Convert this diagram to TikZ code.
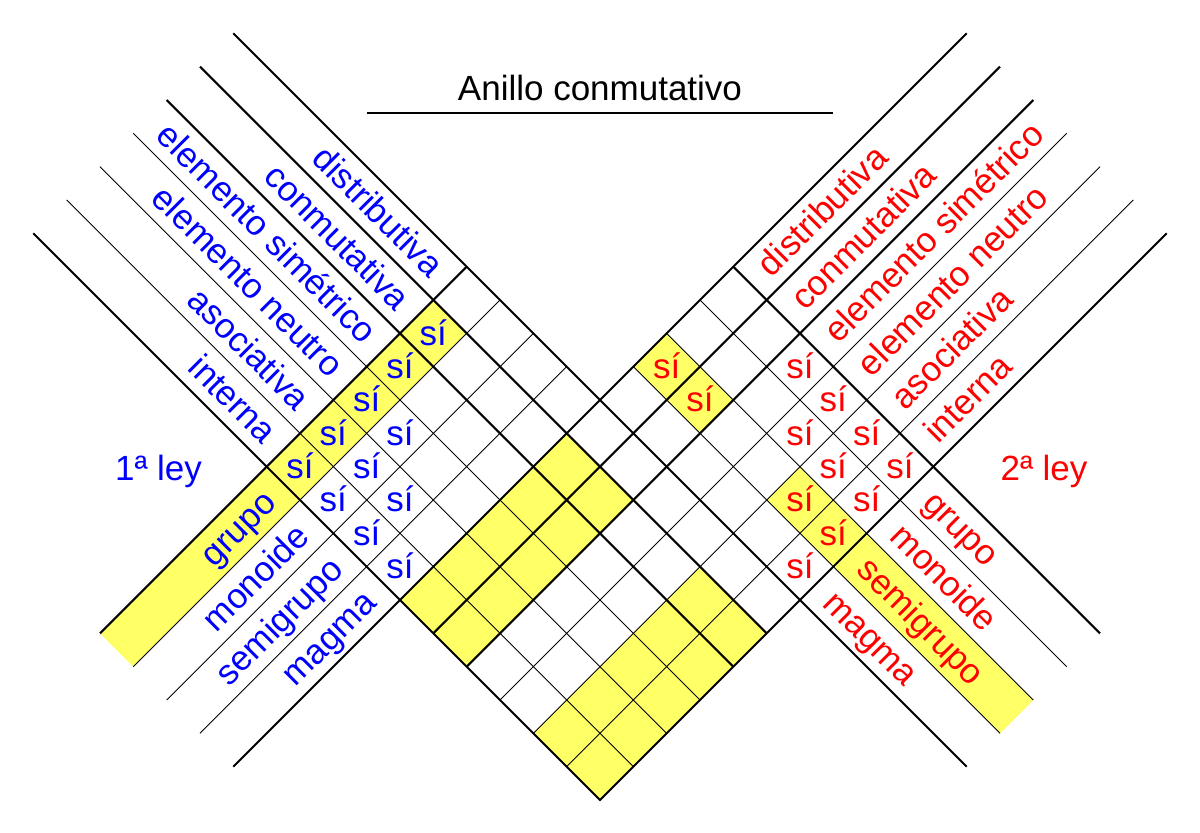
\documentclass[tikz,border=0pt]{standalone}
\usepackage{fontspec}
\setmainfont{Liberation Sans}
\definecolor{amarillo}{RGB}{255,255,102}
\definecolor{azul}{RGB}{0,0,255}
\definecolor{rojo}{RGB}{255,0,0}
\begin{document}
\begin{tikzpicture}[x=1pt,y=1pt,
  thickline/.style={line width=2.1pt},
  thinline/.style={line width=0.9pt},
  lbl/.style={font=\fontsize{35}{40}\selectfont, inner sep=0pt},
  si/.style={font=\fontsize{35}{40}\selectfont, inner sep=0pt, anchor=base, yshift=-11.7pt}]
\useasboundingbox (0,0) rectangle (1200,-833);
% title
\node[lbl, anchor=base] (titulo) at (600,-100) {Anillo conmutativo};
\coordinate (ul1) at (366.7,-112.7);
\coordinate (ul2) at (833.3,-112.7);
\draw[line width=1.6pt] (ul1) -- (ul2);
\node[lbl, anchor=base, text=azul] (ley1) at (158.5,-480) {1ª ley};
\node[lbl, anchor=base, text=rojo] (ley2) at (1044,-480) {2ª ley};
\begin{scope}[x={(33.3333pt,33.3333pt)}, y={(33.3333pt,-33.3333pt)}]
% yellow fills
\fill[amarillo] (-8,11) -- (2,11) -- (2,12) -- (-8,12) -- cycle;
\fill[amarillo] (-3,15) -- (2,15) -- (2,17) -- (-3,17) -- cycle;
\fill[amarillo] (-3,19) -- (2,19) -- (2,21) -- (-3,21) -- cycle;
\fill[amarillo] (4,15) -- (5,15) -- (5,17) -- (4,17) -- cycle;
\fill[amarillo] (4,19) -- (5,19) -- (5,26) -- (4,26) -- cycle;
% lines u = const
\draw[thickline] (3,4) -- (3,26);
\foreach \u/\s in {2/thickline,1/thickline,0/thinline,-1/thinline,-2/thinline}
  \draw[\s] (\u,4) -- (\u,21);
\draw[thickline] (-3,4) -- (-3,21) -- (14,21);
\foreach \u/\s in {4/thinline,5/thinline,6/thinline,7/thickline}
  \draw[\s] (\u,15) -- (\u,26);
% lines v = const
\draw[thickline] (-8,15) -- (14,15);
\foreach \v/\s in {16/thickline,17/thickline,18/thinline,19/thinline,20/thinline}
  \draw[\s] (-3,\v) -- (14,\v);
\foreach \v/\s in {11/thickline,12/thinline,13/thinline,14/thinline}
  \draw[\s] (-8,\v) -- (3,\v);
% upper-left labels (1st law properties)
\foreach \u/\t [count=\i] in {2.5/distributiva,1.5/conmutativa,0.5/elemento simétrico,-0.5/elemento neutro,-1.5/asociativa,-2.5/interna}
  \node[lbl, text=azul, rotate=-45, anchor=base east] (pa\i) at ({\u-0.25},10.62) {\t};
% lower-left labels (1st law structures)
\foreach \v/\t [count=\i] in {11.5/grupo,12.5/monoide,13.5/semigrupo,14.5/magma}
  \node[lbl, text=azul, rotate=45, anchor=base east] (ea\i) at (-3.4,{\v+0.25}) {\t};
% upper-right labels (2nd law properties)
\foreach \v/\t [count=\i] in {15.5/distributiva,16.5/conmutativa,17.5/elemento simétrico,18.5/elemento neutro,19.5/asociativa,20.5/interna}
  \node[lbl, text=rojo, rotate=45, anchor=base west] (pb\i) at (7.4,{\v+0.25}) {\t};
% lower-right labels (2nd law structures)
\foreach \u/\t [count=\i] in {6.5/grupo,5.5/monoide,4.5/semigrupo,3.5/magma}
  \node[lbl, text=rojo, rotate=-45, anchor=base west] (eb\i) at ({\u-0.25},21.4) {\t};
% si cells, 1st law
\foreach \u/\v [count=\i] in {1.5/11.5,0.5/11.5,-0.5/11.5,-1.5/11.5,-2.5/11.5,-0.5/12.5,-1.5/12.5,-2.5/12.5,-1.5/13.5,-2.5/13.5,-2.5/14.5}
  \node[si, text=azul] (sa\i) at (\u,\v) {sí};
% si cells, 2nd law
\foreach \u/\v [count=\i] in {6.5/17.5,6.5/18.5,6.5/19.5,6.5/20.5,5.5/18.5,5.5/19.5,5.5/20.5,4.5/15.5,4.5/16.5,4.5/19.5,4.5/20.5,3.5/20.5}
  \node[si, text=rojo] (sb\i) at (\u,\v) {sí};
\end{scope}
\end{tikzpicture}
\end{document}
